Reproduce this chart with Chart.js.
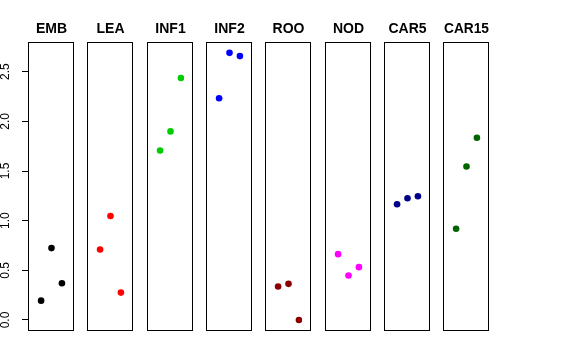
<!DOCTYPE html>
<html>
<head>
<meta charset="utf-8">
<script src="https://cdn.jsdelivr.net/npm/chart.js@4/dist/chart.umd.min.js"></script>
<style>
  html, body { margin: 0; padding: 0; background: #ffffff; }
  #wrap { position: relative; width: 576px; height: 360px; overflow: hidden; background: #ffffff; }
  canvas { position: absolute; top: 0; }
</style>
</head>
<body>
<div id="wrap"></div>
<script>
// ---- data ----
const categories = ['EMB', 'LEA', 'INF1', 'INF2', 'ROO', 'NOD', 'CAR5', 'CAR15'];
const colors = ['#000000', '#FF0000', '#00CD00', '#0000FF', '#8B0000', '#FF00FF', '#00008B', '#006400'];
const xPositions = [1, 2, 3];
const EMB = [0.195, 0.724, 0.370];
const LEA = [0.710, 1.047, 0.276];
const INF1 = [1.707, 1.899, 2.437];
const INF2 = [2.232, 2.690, 2.657];
const ROO = [0.337, 0.364, 0.000];
const NOD = [0.663, 0.448, 0.532];
const CAR5 = [1.165, 1.226, 1.246];
const CAR15 = [0.919, 1.545, 1.835];
const yTicks = [0, 0.5, 1.0, 1.5, 2.0, 2.5];
const yTickLabels = ['0.0', '0.5', '1.0', '1.5', '2.0', '2.5'];
const seriesValues = [EMB, LEA, INF1, INF2, ROO, NOD, CAR5, CAR15];

// ---- layout ----
const areaLefts = [29, 88, 148, 207, 266, 326, 385, 444];
const areaWidth = 45;
const gapPad = 7;
const yMin = -0.1108, yMax = 2.789;
const xMin = -0.16, xMax = 4.16;
const FONT = "'Liberation Sans', Helvetica, Arial, sans-serif";

const boxPlugin = {
  id: 'panelBox',
  afterDatasetsDraw(chart) {
    const a = chart.chartArea;
    const ctx = chart.ctx;
    ctx.save();
    ctx.strokeStyle = '#000000';
    ctx.lineWidth = 1;
    ctx.strokeRect(Math.round(a.left) - 0.5, Math.round(a.top) - 0.5, Math.round(a.right - a.left), Math.round(a.bottom - a.top));
    ctx.restore();
  }
};

const wrap = document.getElementById('wrap');
categories.forEach((name, i) => {
  const first = i === 0;
  const canvasLeft = first ? 0 : areaLefts[i] - gapPad;
  const canvasWidth = first ? areaLefts[0] + areaWidth + gapPad : areaWidth + 2 * gapPad;
  const cv = document.createElement('canvas');
  cv.width = canvasWidth;
  cv.height = 360;
  cv.style.left = canvasLeft + 'px';
  cv.style.width = canvasWidth + 'px';
  cv.style.height = '360px';
  wrap.appendChild(cv);

  new Chart(cv, {
    type: 'scatter',
    data: {
      datasets: [{
        label: name,
        data: seriesValues[i].map((v, k) => ({ x: xPositions[k], y: v })),
        backgroundColor: colors[i],
        borderColor: colors[i],
        borderWidth: 0,
        pointRadius: 3.3,
        pointHoverRadius: 3.3
      }]
    },
    options: {
      responsive: false,
      animation: false,
      devicePixelRatio: 1,
      layout: { padding: { left: first ? 0 : gapPad, right: gapPad, top: 0, bottom: 29 } },
      plugins: {
        legend: { display: false },
        tooltip: { enabled: false },
        title: {
          display: true,
          text: name,
          fullSize: false,
          color: '#000000',
          font: { family: FONT, size: 14, weight: 'bold', lineHeight: 1.2 },
          padding: { top: 20.3, bottom: 5.9 }
        }
      },
      scales: {
        x: { type: 'linear', min: xMin, max: xMax, display: false },
        y: {
          type: 'linear',
          min: yMin,
          max: yMax,
          display: first,
          afterBuildTicks: (scale) => { scale.ticks = yTicks.map(v => ({ value: v })); },
          afterFit: (scale) => { if (first) scale.width = areaLefts[0]; },
          border: { display: false },
          grid: { display: true, drawOnChartArea: false, drawTicks: true, tickLength: 7, color: '#000000', lineWidth: 1 },
          ticks: {
            color: '#000000',
            font: { family: FONT, size: 12 },
            minRotation: 90,
            maxRotation: 90,
            crossAlign: 'center',
            padding: 8,
            autoSkip: false,
            callback: (v, idx) => yTickLabels[idx]
          }
        }
      }
    },
    plugins: [boxPlugin]
  });
});
</script>
</body>
</html>
